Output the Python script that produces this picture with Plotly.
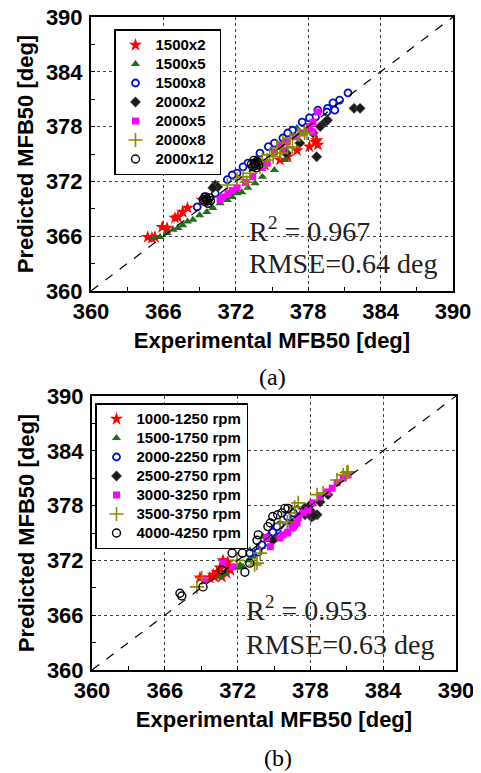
import plotly.graph_objects as go

# ---------------- data: panel (a) ----------------
a_names = ["1500x2", "1500x5", "1500x8", "2000x2", "2000x5", "2000x8", "2000x12"]

a_1500x2_x = [364.7, 365.05, 365.3, 365.9, 366.3, 366.96, 367.2, 367.6, 368.0, 369.2, 374.4, 375.66, 376.3, 377.07, 378.1, 378.6, 378.8, 378.7]
a_1500x2_y = [365.9, 365.8, 365.9, 367.0, 366.9, 368.0, 368.1, 368.65, 369.1, 369.97, 373.8, 374.35, 374.7, 375.4, 375.8, 376.3, 376.0, 376.5]

a_1500x5_x = [365.14, 365.72, 366.3, 366.8, 367.2, 367.6, 368.0, 368.45, 369.0, 369.6, 370.1, 370.7, 371.3, 371.7, 372.1, 372.5, 373.0, 373.6, 374.2, 375.2, 376.1, 377.07]
a_1500x5_y = [365.8, 365.9, 366.35, 366.7, 366.9, 367.2, 367.6, 367.8, 368.3, 368.65, 369.1, 369.6, 369.97, 370.3, 370.7, 370.8, 371.3, 371.8, 372.5, 373.25, 374.35, 377.85]

a_1500x8_x = [381.3, 380.6, 380.05, 379.6, 380.2, 379.55, 378.8, 378.6, 378.1, 377.5, 376.7, 376.3, 375.9, 375.2, 374.7, 374.0, 373.0, 372.6, 372.1, 371.7, 371.3, 370.3, 369.4, 368.8]
a_1500x8_y = [381.7, 380.9, 380.6, 380.0, 379.8, 379.6, 379.8, 379.05, 378.95, 378.5, 377.6, 377.3, 376.75, 376.2, 375.8, 375.1, 374.0, 373.6, 372.9, 372.7, 372.2, 370.7, 370.3, 369.2]

a_2000x2_x = [381.8, 382.3, 378.7, 379.0, 379.4, 379.6, 378.4, 377.3, 370.3, 370.5, 370.1, 373.75, 376.2]
a_2000x2_y = [380.0, 380.0, 374.7, 378.0, 378.5, 378.7, 377.3, 376.2, 371.6, 371.4, 371.3, 374.35, 375.1]

a_2000x5_x = [378.8, 378.4, 378.1, 377.9, 378.4, 377.5, 376.9, 376.2, 375.7, 375.9, 375.2, 374.6, 374.2, 373.4, 372.8, 372.1, 371.35, 370.9, 370.7, 371.7]
a_2000x5_y = [379.6, 378.5, 378.0, 377.6, 377.4, 377.3, 376.9, 376.3, 376.0, 375.4, 375.2, 374.0, 373.5, 372.5, 371.9, 371.3, 370.7, 370.3, 369.97, 371.0]

a_2000x8_x = [371.3, 372.1, 372.6, 373.2, 374.0, 374.6, 375.1, 375.7, 376.3, 376.7, 377.3, 377.9, 376.5, 377.15, 377.7, 375.9, 375.4, 374.8, 374.2, 372.9]
a_2000x8_y = [371.6, 372.2, 372.5, 372.9, 373.6, 374.35, 374.7, 375.1, 375.7, 375.8, 377.1, 377.3, 376.75, 377.1, 377.3, 376.2, 375.7, 374.9, 374.35, 371.9]

a_2000x12_x = [373.4, 373.6, 373.8, 373.5, 373.9, 373.3, 373.7, 373.55, 373.65, 369.4, 369.6, 369.8, 369.5, 369.3, 369.9, 369.7, 369.55, 369.65]
a_2000x12_y = [373.6, 373.9, 374.1, 374.3, 373.8, 373.9, 373.5, 374.0, 373.75, 369.8, 370.0, 370.2, 370.3, 370.0, 369.9, 369.6, 370.05, 369.85]

# ---------------- data: panel (b) ----------------
b_names = ["1000-1250 rpm", "1500-1750 rpm", "2000-2250 rpm", "2500-2750 rpm",
           "3000-3250 rpm", "3500-3750 rpm", "4000-4250 rpm"]

b_1000_x = [368.9, 370.0, 370.3, 370.55, 370.95, 371.2, 371.4, 371.1, 370.7, 370.1, 370.8, 371.2, 369.7]
b_1000_y = [370.1, 370.4, 370.7, 371.2, 371.5, 371.8, 370.95, 370.6, 370.2, 370.2, 372.0, 371.3, 370.1]

b_1500_x = [372.0, 372.2, 372.9, 373.2, 373.4, 373.85, 370.55, 370.95, 372.45, 373.3, 374.0, 374.9, 375.25, 373.0, 374.1]
b_1500_y = [371.2, 371.5, 372.0, 372.6, 372.9, 373.7, 370.2, 370.6, 371.3, 372.4, 373.5, 374.2, 374.6, 373.1, 374.6]

b_2000_x = [373.0, 373.85, 374.5, 374.85, 375.25, 375.5, 376.1, 376.9, 374.0, 374.5, 375.1, 373.7, 374.7, 374.9, 375.25, 376.6]
b_2000_y = [372.8, 373.5, 374.0, 375.0, 375.3, 375.9, 376.8, 377.5, 373.7, 374.5, 375.55, 372.9, 374.6, 375.1, 375.7, 377.2]

b_2500_x = [378.0, 378.2, 378.55, 377.55, 376.6, 377.55, 378.1, 376.5, 378.8, 379.45, 374.9, 378.0, 378.3]
b_2500_y = [378.1, 377.2, 377.0, 377.0, 375.7, 377.75, 376.75, 376.1, 378.4, 379.2, 374.2, 377.0, 376.9]

b_3000_x = [381.1, 380.7, 380.2, 379.8, 379.4, 378.8, 378.2, 377.8, 377.4, 377.0, 376.9, 376.6, 376.15, 375.75, 375.5, 370.8, 369.3, 371.6, 376.1, 376.5, 374.7, 374.4]
b_3000_y = [381.35, 381.0, 380.5, 379.9, 379.5, 378.95, 378.3, 377.5, 377.2, 376.65, 376.1, 375.7, 375.1, 374.8, 374.45, 371.7, 369.85, 371.3, 375.0, 375.55, 373.5, 374.5]

b_3500_x = [368.65, 369.05, 371.95, 373.6, 373.85, 376.3, 377.0, 376.7, 378.55, 379.05, 380.2, 380.7, 381.0, 375.5, 376.1, 373.4, 381.1]
b_3500_y = [369.1, 370.1, 372.0, 371.7, 372.8, 377.2, 378.3, 377.85, 379.2, 379.4, 380.8, 381.35, 381.6, 376.1, 376.2, 371.5, 381.7]

b_4000_x = [367.25, 367.4, 369.15, 370.7, 371.55, 372.6, 373.0, 373.6, 373.7, 374.5, 374.7, 374.9, 375.3, 375.65, 375.9, 376.15, 372.4]
b_4000_y = [368.4, 368.1, 369.1, 370.95, 372.8, 370.7, 371.7, 374.2, 374.8, 375.7, 376.1, 376.8, 377.0, 377.2, 377.7, 377.7, 372.8]

diag = [360, 390]
tick_vals = [360, 366, 372, 378, 384, 390]
tick_text = ["360", "366", "372", "378", "384", "390"]

# ---------------- styles ----------------
styles = [
    dict(symbol="star", size=10, color="#ff0000", line=dict(width=0)),
    dict(symbol="triangle-up", size=8, color="#1f6e1f", line=dict(width=0)),
    dict(symbol="circle", size=7, color="#ffffff", line=dict(width=1.8, color="#0010d0")),
    dict(symbol="diamond", size=8, color="#1a1a1a", line=dict(width=0.6, color="#666666")),
    dict(symbol="square", size=7, color="#ff00ff", line=dict(width=0)),
    dict(symbol="cross-thin-open", size=10, color="#8a8a00", line=dict(width=1.6, color="#8a8a00")),
    dict(symbol="circle-open", size=8, color="#000000", line=dict(width=1.4, color="#000000")),
]

a_series = [(a_1500x2_x, a_1500x2_y), (a_1500x5_x, a_1500x5_y), (a_1500x8_x, a_1500x8_y),
            (a_2000x2_x, a_2000x2_y), (a_2000x5_x, a_2000x5_y), (a_2000x8_x, a_2000x8_y),
            (a_2000x12_x, a_2000x12_y)]
b_series = [(b_1000_x, b_1000_y), (b_1500_x, b_1500_y), (b_2000_x, b_2000_y),
            (b_2500_x, b_2500_y), (b_3000_x, b_3000_y), (b_3500_x, b_3500_y),
            (b_4000_x, b_4000_y)]

fig = go.Figure()

LEG_SPAN = '<span style="font-size:15px">{}</span>'

for (xs, ys), name, st in zip(a_series, a_names, styles):
    fig.add_trace(go.Scatter(x=xs, y=ys, mode="markers", name=LEG_SPAN.format(name),
                             marker=st, xaxis="x", yaxis="y", legend="legend"))
fig.add_trace(go.Scatter(x=diag, y=diag, mode="lines", showlegend=False,
                         line=dict(color="black", width=1.2, dash="dash"),
                         xaxis="x", yaxis="y"))

for (xs, ys), name, st in zip(b_series, b_names, styles):
    fig.add_trace(go.Scatter(x=xs, y=ys, mode="markers", name=LEG_SPAN.format(name),
                             marker=st, xaxis="x2", yaxis="y2", legend="legend2"))
fig.add_trace(go.Scatter(x=diag, y=diag, mode="lines", showlegend=False,
                         line=dict(color="black", width=1.2, dash="dash"),
                         xaxis="x2", yaxis="y2"))

SANS = "Liberation Sans, Arial, sans-serif"
SERIF = "Liberation Serif, Times New Roman, serif"
tickfont = dict(family=SANS, size=22, color="black", weight="bold")
titlefont = dict(family=SANS, size=22, color="black", weight="bold")

# page body adds an 8 px offset, so the figure is 8 px smaller than the window
W, H = 473, 765


def axis(domain, anchor, title, standoff, lab_standoff):
    return dict(
        domain=domain, anchor=anchor, range=[360, 390], automargin=False,
        tickmode="array", tickvals=tick_vals, ticktext=tick_text,
        tickfont=tickfont, ticklabeloverflow="allow",
        title=dict(text=title, font=titlefont, standoff=standoff),
        showline=True, linecolor="black", linewidth=2, mirror=True,
        ticks="inside", ticklen=4, tickwidth=1, tickcolor="black",
        showgrid=True, gridcolor="#444444", gridwidth=1, griddash="dot",
        zeroline=False,
        minor=dict(tickvals=[363, 369, 375, 381, 387], ticks="inside", ticklen=4,
                   tickwidth=1, tickcolor="black", showgrid=False),
        ticklabelstandoff=lab_standoff,
    )


fig.update_layout(
    width=W, height=H, autosize=False,
    margin=dict(l=0, r=0, t=0, b=0, autoexpand=False),
    paper_bgcolor="white", plot_bgcolor="white",
    xaxis=axis([83 / W, 445 / W], "y", "Experimental MFB50 [deg]", 9, 0),
    yaxis=axis([1 - 283 / H, 1 - 9 / H], "x", "Predicted MFB50 [deg]", 6, 2),
    xaxis2=axis([84 / W, 448 / W], "y2", "Experimental MFB50 [deg]", 9, 0),
    yaxis2=axis([1 - 662 / H, 1 - 388 / H], "x2", "Predicted MFB50 [deg]", 6, 2),
    legend=dict(x=106 / W, y=1 - 21 / H, xanchor="left", yanchor="top",
                bgcolor="white", bordercolor="black", borderwidth=1.5,
                font=dict(family=SANS, size=12, color="black", weight="bold"),
                itemsizing="trace"),
    legend2=dict(x=87 / W, y=1 - 395 / H, xanchor="left", yanchor="top",
                 bgcolor="white", bordercolor="black", borderwidth=1.5,
                 font=dict(family=SANS, size=12, color="black", weight="bold"),
                 itemsizing="trace"),
    showlegend=True,
)

ann_font = dict(family=SERIF, size=28, color="#222222")
fig.add_annotation(x=372.9, y=366.7, xref="x", yref="y", text="R<sup>2</sup> = 0.967",
                   showarrow=False, xanchor="left", yanchor="middle", font=ann_font)
fig.add_annotation(x=372.9, y=363.0, xref="x", yref="y", text="RMSE=0.64 deg",
                   showarrow=False, xanchor="left", yanchor="middle", font=ann_font)
fig.add_annotation(x=372.5, y=366.7, xref="x2", yref="y2", text="R<sup>2</sup> = 0.953",
                   showarrow=False, xanchor="left", yanchor="middle", font=ann_font)
fig.add_annotation(x=372.5, y=362.8, xref="x2", yref="y2", text="RMSE=0.63 deg",
                   showarrow=False, xanchor="left", yanchor="middle", font=ann_font)

lab_font = dict(family=SERIF, size=24, color="black")
fig.add_annotation(x=264 / W, y=1 - 369 / H, xref="paper", yref="paper", text="(a)",
                   showarrow=False, xanchor="center", yanchor="middle", font=lab_font)
fig.add_annotation(x=270 / W, y=1 - 750 / H, xref="paper", yref="paper", text="(b)",
                   showarrow=False, xanchor="center", yanchor="middle", font=lab_font)

fig.write_html("out.html")
